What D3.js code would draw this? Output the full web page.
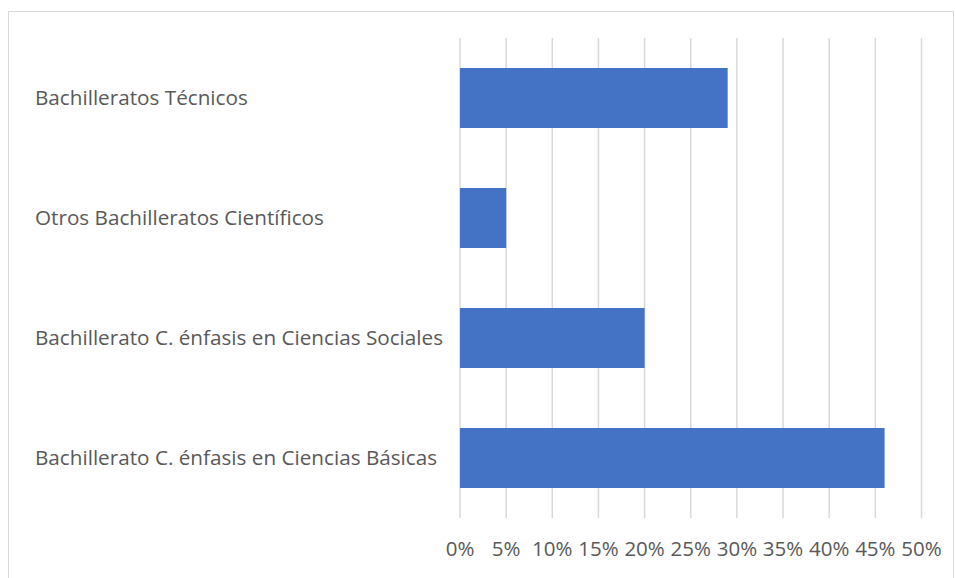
<!DOCTYPE html>
<html><head><meta charset="utf-8">
<script src="https://cdn.jsdelivr.net/npm/d3@7"></script>
<style>body{margin:0;background:#fff}svg{display:block}</style>
</head><body>
<svg id="c" width="955" height="578"></svg>
<script>
const categories = ["Bachilleratos Técnicos","Otros Bachilleratos Científicos","Bachillerato C. énfasis en Ciencias Sociales","Bachillerato C. énfasis en Ciencias Básicas"];
const values = [0.29, 0.05, 0.20, 0.46];
const tickValues = [0,0.05,0.10,0.15,0.20,0.25,0.30,0.35,0.40,0.45,0.50];
const tickLabels = ["0%","5%","10%","15%","20%","25%","30%","35%","40%","45%","50%"];

const svg = d3.select("#c");
const font = "'Open Sans', sans-serif";
svg.append("rect").attr("x",8.5).attr("y",11.5).attr("width",945).attr("height",580)
  .attr("fill","#fff").attr("stroke","#d9d9d9").attr("stroke-width",1);

const x = d3.scaleLinear().domain([0,0.5]).range([460,921.5]);
const y = d3.scaleBand().domain(categories).range([38,518]).paddingInner(0.5).paddingOuter(0.25);

svg.append("g").selectAll("line").data(tickValues).join("line")
  .attr("x1",d=>x(d)).attr("x2",d=>x(d)).attr("y1",38).attr("y2",518)
  .attr("stroke","#d9d9d9").attr("stroke-width",1.5);

svg.append("g").selectAll("rect").data(values).join("rect")
  .attr("x",x(0)).attr("y",(d,i)=>y(categories[i]))
  .attr("width",d=>x(d)-x(0)).attr("height",y.bandwidth())
  .attr("fill","#4472C4");

svg.append("g").selectAll("text").data(categories).join("text")
  .attr("x",35).attr("y",d=>y(d)+y.bandwidth()/2).attr("dy","0.35em")
  .attr("font-family",font).attr("font-size",20.7).attr("fill","#595959")
  .text(d=>d);

svg.append("g").selectAll("text").data(tickValues).join("text")
  .attr("x",d=>x(d)).attr("y",549).attr("dy","0.35em").attr("text-anchor","middle")
  .attr("font-family",font).attr("font-size",20.5).attr("fill","#595959")
  .text((d,i)=>tickLabels[i]);
</script>
</body></html>
